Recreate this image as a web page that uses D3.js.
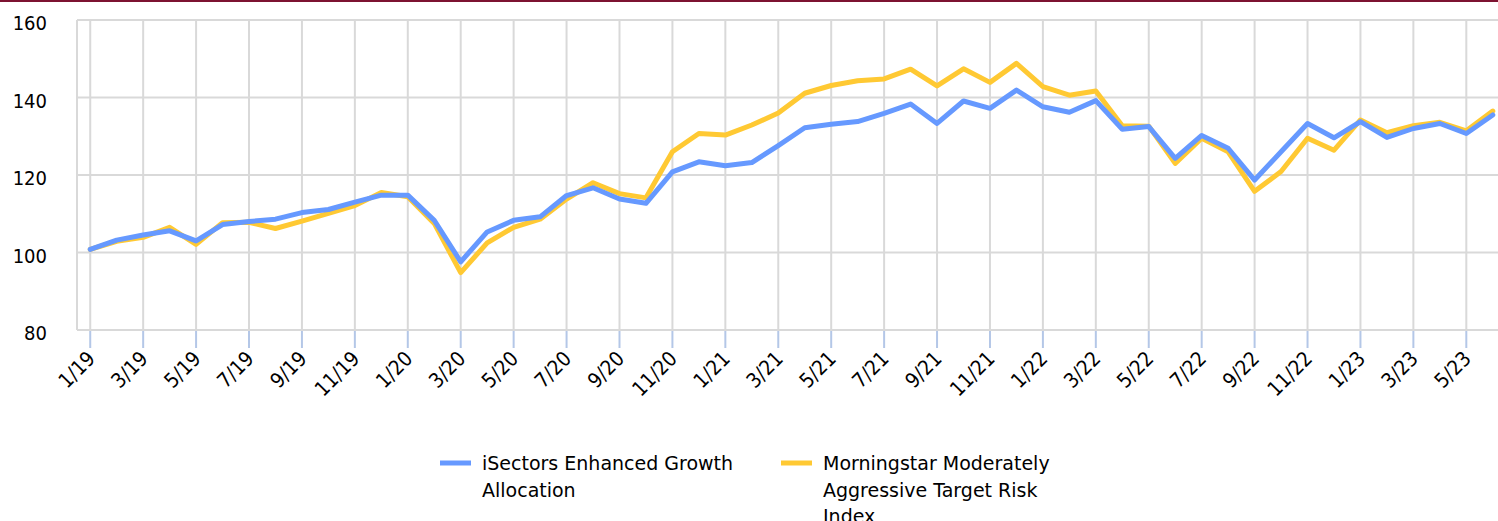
<!DOCTYPE html>
<html><head><meta charset="utf-8">
<script src="https://cdn.jsdelivr.net/npm/d3@7"></script>
<style>
body{margin:0;background:#fff;overflow:hidden;}
text{font-family:"DejaVu Sans Condensed","DejaVu Sans",sans-serif;fill:#000;}
text.leg{font-family:"DejaVu Sans",sans-serif;}
</style>
</head><body><svg id="c" width="1498" height="521"></svg>
<script>
const months = ["1/19","2/19","3/19","4/19","5/19","6/19","7/19","8/19","9/19","10/19","11/19","12/19",
"1/20","2/20","3/20","4/20","5/20","6/20","7/20","8/20","9/20","10/20","11/20","12/20",
"1/21","2/21","3/21","4/21","5/21","6/21","7/21","8/21","9/21","10/21","11/21","12/21",
"1/22","2/22","3/22","4/22","5/22","6/22","7/22","8/22","9/22","10/22","11/22","12/22",
"1/23","2/23","3/23","4/23","5/23","6/23"];
const isectors = [100.8,103.2,104.5,105.6,103.0,107.2,108.0,108.6,110.3,111.1,113.0,114.8,
114.8,108.3,97.6,105.3,108.3,109.2,114.7,116.7,113.8,112.7,120.8,123.4,
122.4,123.2,127.6,132.2,133.1,133.8,135.9,138.3,133.3,139.1,137.2,141.9,
137.6,136.2,139.2,131.8,132.5,124.3,130.2,126.9,118.7,126.0,133.3,129.6,
133.8,129.7,132.0,133.3,130.7,135.5];
const morningstar = [100.8,102.9,103.9,106.5,102.1,107.7,107.8,106.2,108.1,110.1,112.1,115.5,
114.4,107.5,94.8,102.5,106.5,108.6,113.8,118.0,115.2,114.1,126.0,130.7,
130.3,132.9,136.0,141.1,143.1,144.3,144.8,147.3,143.0,147.4,143.9,148.8,
142.8,140.6,141.7,132.7,132.6,123.0,129.5,126.0,115.8,120.9,129.5,126.4,
134.2,130.9,132.7,133.6,131.4,136.5];
const xTickLabels = ["1/19","3/19","5/19","7/19","9/19","11/19","1/20","3/20","5/20","7/20","9/20","11/20",
"1/21","3/21","5/21","7/21","9/21","11/21","1/22","3/22","5/22","7/22","9/22","11/22","1/23","3/23","5/23"];
const yTicks = [80,100,120,140,160];
const seriesLabels = [["iSectors Enhanced Growth","Allocation"],["Morningstar Moderately","Aggressive Target Risk","Index"]];
const seriesColors = ["#6699ff","#ffc933"];

const svg = d3.select("#c");
svg.append("rect").attr("x",0).attr("y",0).attr("width",1498).attr("height",2).attr("fill","#7d1331");

const pL = 77, pR = 1506, pT = 20, pB = 330;
const x = d3.scaleBand().domain(months).range([pL,pR]);
const cx = m => x(m) + x.bandwidth()/2;
const y = d3.scaleLinear().domain([80,160]).range([pB,pT]);

const g = svg.append("g");
g.selectAll("line.h").data(yTicks).join("line").attr("class","h")
 .attr("x1",pL).attr("x2",1498).attr("y1",d=>y(d)).attr("y2",d=>y(d))
 .attr("stroke","#d9d9d9").attr("stroke-width",2);
g.append("line").attr("x1",pL).attr("x2",pL).attr("y1",pT).attr("y2",pB)
 .attr("stroke","#d9d9d9").attr("stroke-width",2);
g.selectAll("line.v").data(xTickLabels).join("line").attr("class","v")
 .attr("x1",d=>cx(d)).attr("x2",d=>cx(d)).attr("y1",pT).attr("y2",pB)
 .attr("stroke","#d9d9d9").attr("stroke-width",2);
g.selectAll("line.t").data(xTickLabels).join("line").attr("class","t")
 .attr("x1",d=>cx(d)).attr("x2",d=>cx(d)).attr("y1",pB+1).attr("y2",pB+18)
 .attr("stroke","#b4c7e7").attr("stroke-width",2);

g.selectAll("text.y").data(yTicks).join("text").attr("class","y")
 .attr("x",47).attr("y",d=>y(d)+3).attr("text-anchor","end").attr("dominant-baseline","central")
 .attr("font-size",20).text(d=>d);
g.selectAll("text.x").data(xTickLabels).join("text").attr("class","x")
 .attr("text-anchor","end").attr("font-size",20.5)
 .attr("transform",d=>`translate(${cx(d)+6},${pB+30}) rotate(-45)`)
 .text(d=>d);

const line = d3.line().x((d,i)=>cx(months[i])).y(d=>y(d));
[[morningstar, seriesColors[1]], [isectors, seriesColors[0]]].forEach(([s,col])=>{
  svg.append("path").datum(s).attr("d",line).attr("fill","none")
   .attr("stroke",col).attr("stroke-width",5).attr("stroke-linejoin","round").attr("stroke-linecap","round");
});

const legX = [440,781];
seriesLabels.forEach((lines,i)=>{
  const lg = svg.append("g");
  lg.append("line").attr("x1",legX[i]).attr("x2",legX[i]+31).attr("y1",463).attr("y2",463)
    .attr("stroke",seriesColors[i]).attr("stroke-width",5);
  const t = lg.append("text").attr("class","leg").attr("x",legX[i]+42).attr("y",470).attr("font-size",19);
  lines.forEach((l,j)=>t.append("tspan").attr("x",legX[i]+42).attr("dy",j===0?0:26.5).text(l));
});
</script></body></html>
